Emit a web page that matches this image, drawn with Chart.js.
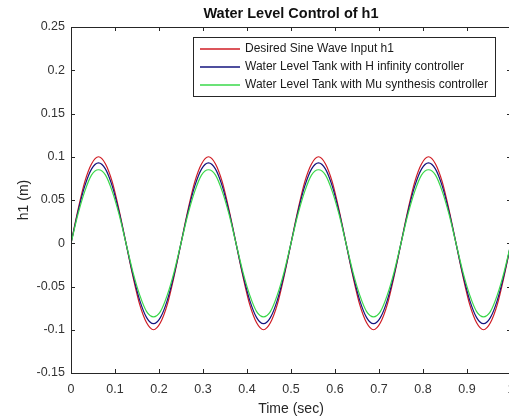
<!DOCTYPE html>
<html>
<head>
<meta charset="utf-8">
<script src="https://cdn.jsdelivr.net/npm/chart.js@4"></script>
<style>
  html, body { margin: 0; padding: 0; background: #fff; overflow: hidden; }
  #wrap { width: 515px; height: 419px; }
</style>
</head>
<body>
<div id="wrap"><canvas id="levelChart" width="515" height="419"></canvas></div>
<script>
// time samples (sec)
const timeSec = [
  0, 0.015625, 0.03125, 0.046875, 0.0625, 0.078125, 0.09375, 0.109375,
  0.125, 0.140625, 0.15625, 0.171875, 0.1875, 0.203125, 0.21875, 0.234375,
  0.25, 0.265625, 0.28125, 0.296875, 0.3125, 0.328125, 0.34375, 0.359375,
  0.375, 0.390625, 0.40625, 0.421875, 0.4375, 0.453125, 0.46875, 0.484375,
  0.5, 0.515625, 0.53125, 0.546875, 0.5625, 0.578125, 0.59375, 0.609375,
  0.625, 0.640625, 0.65625, 0.671875, 0.6875, 0.703125, 0.71875, 0.734375,
  0.75, 0.765625, 0.78125, 0.796875, 0.8125, 0.828125, 0.84375, 0.859375,
  0.875, 0.890625, 0.90625, 0.921875, 0.9375, 0.953125, 0.96875, 0.984375,
  1
];

// Desired sine input h1
const desiredH1 = [
  0, 0.038, 0.071, 0.092, 0.1, 0.092, 0.071, 0.038, 0, -0.038, -0.071, -0.092, -0.1, -0.092, -0.071, -0.038,
  0, 0.038, 0.071, 0.092, 0.1, 0.092, 0.071, 0.038, 0, -0.038, -0.071, -0.092, -0.1, -0.092, -0.071, -0.038,
  0, 0.038, 0.071, 0.092, 0.1, 0.092, 0.071, 0.038, 0, -0.038, -0.071, -0.092, -0.1, -0.092, -0.071, -0.038,
  0, 0.038, 0.071, 0.092, 0.1, 0.092, 0.071, 0.038, 0, -0.038, -0.071, -0.092, -0.1, -0.092, -0.071, -0.038,
  0
];

// H infinity controller
const hinfH1 = [
  0, 0.036, 0.066, 0.086, 0.093, 0.086, 0.066, 0.036, 0, -0.036, -0.066, -0.086, -0.093, -0.086, -0.066, -0.036,
  0, 0.036, 0.066, 0.086, 0.093, 0.086, 0.066, 0.036, 0, -0.036, -0.066, -0.086, -0.093, -0.086, -0.066, -0.036,
  0, 0.036, 0.066, 0.086, 0.093, 0.086, 0.066, 0.036, 0, -0.036, -0.066, -0.086, -0.093, -0.086, -0.066, -0.036,
  0, 0.036, 0.066, 0.086, 0.093, 0.086, 0.066, 0.036, 0, -0.036, -0.066, -0.086, -0.093, -0.086, -0.066, -0.036,
  0
];

// Mu synthesis controller
const muH1 = [
  0, 0.033, 0.06, 0.079, 0.085, 0.079, 0.06, 0.033, 0, -0.033, -0.06, -0.079, -0.085, -0.079, -0.06, -0.033,
  0, 0.033, 0.06, 0.079, 0.085, 0.079, 0.06, 0.033, 0, -0.033, -0.06, -0.079, -0.085, -0.079, -0.06, -0.033,
  0, 0.033, 0.06, 0.079, 0.085, 0.079, 0.06, 0.033, 0, -0.033, -0.06, -0.079, -0.085, -0.079, -0.06, -0.033,
  0, 0.033, 0.06, 0.079, 0.085, 0.079, 0.06, 0.033, 0, -0.033, -0.06, -0.079, -0.085, -0.079, -0.06, -0.033,
  0
];

const xTicks = [0, 0.1, 0.2, 0.3, 0.4, 0.5, 0.6, 0.7, 0.8, 0.9, 1];
const xTickLabels = ['0', '0.1', '0.2', '0.3', '0.4', '0.5', '0.6', '0.7', '0.8', '0.9', '1'];
const yTicks = [-0.15, -0.1, -0.05, 0, 0.05, 0.1, 0.15, 0.2, 0.25];
const yTickLabels = ['-0.15', '-0.1', '-0.05', '0', '0.05', '0.1', '0.15', '0.2', '0.25'];

const seriesNames = [
  'Desired Sine Wave Input h1',
  'Water Level Tank with H infinity controller',
  'Water Level Tank with Mu synthesis controller'
];
const seriesColors = ['#d01c24', '#14147e', '#3ad84a'];

const FONT = '"Liberation Sans", Arial, sans-serif';
const AXIS = '#262626';

function toPoints(ys) {
  return timeSec.map((t, i) => ({ x: t, y: ys[i] }));
}

// box, inward ticks, title, axis labels and legend, MATLAB style
const matlabFrame = {
  id: 'matlabFrame',
  afterDraw(chart) {
    const ctx = chart.ctx;
    const a = chart.chartArea;
    const xs = chart.scales.x, ys = chart.scales.y;
    ctx.save();
    ctx.strokeStyle = AXIS;
    ctx.lineWidth = 1;
    ctx.beginPath();
    xTicks.forEach(v => {
      const px = Math.round(xs.getPixelForValue(v)) + 0.5;
      ctx.moveTo(px, a.bottom); ctx.lineTo(px, a.bottom - 4);
      ctx.moveTo(px, a.top); ctx.lineTo(px, a.top + 4);
    });
    yTicks.forEach(v => {
      const py = Math.round(ys.getPixelForValue(v)) + 0.5;
      ctx.moveTo(a.left, py); ctx.lineTo(a.left + 4, py);
      ctx.moveTo(a.right, py); ctx.lineTo(a.right - 4, py);
    });
    ctx.stroke();
    ctx.strokeRect(Math.round(a.left) + 0.5, Math.round(a.top) + 0.5,
      Math.round(a.right - a.left), Math.round(a.bottom - a.top));

    // title + axis titles
    const cx = (a.left + a.right) / 2;
    ctx.fillStyle = '#111';
    ctx.textAlign = 'center';
    ctx.textBaseline = 'middle';
    ctx.font = 'bold 14.5px ' + FONT;
    ctx.fillText('Water Level Control of h1', cx, 14);
    ctx.fillStyle = '#262626';
    ctx.font = '14px ' + FONT;
    ctx.fillText('Time (sec)', cx, 409);
    ctx.save();
    ctx.translate(24, 200);
    ctx.rotate(-Math.PI / 2);
    ctx.fillText('h1 (m)', 0, 0);
    ctx.restore();

    // legend
    const lx = 193, ly = 37, lw = 302, lh = 59;
    ctx.fillStyle = '#fff';
    ctx.fillRect(lx, ly, lw, lh);
    ctx.strokeStyle = AXIS;
    ctx.strokeRect(lx + 0.5, ly + 0.5, lw, lh);
    ctx.font = '12px ' + FONT;
    ctx.textAlign = 'left';
    seriesNames.forEach((name, i) => {
      const y = 49 + i * 18;
      ctx.strokeStyle = seriesColors[i];
      ctx.lineWidth = 1.5;
      ctx.beginPath();
      ctx.moveTo(200, y); ctx.lineTo(240, y);
      ctx.stroke();
      ctx.fillStyle = '#1a1a1a';
      ctx.fillText(name, 245, y);
    });
    ctx.restore();
  }
};

const bgPlugin = {
  id: 'bg',
  beforeDraw(chart) {
    const ctx = chart.ctx;
    ctx.save();
    ctx.fillStyle = '#fff';
    ctx.fillRect(0, 0, chart.width, chart.height);
    ctx.restore();
  }
};

new Chart(document.getElementById('levelChart'), {
  type: 'line',
  data: {
    datasets: [
      { label: seriesNames[0], data: toPoints(desiredH1), borderColor: seriesColors[0], order: 2 },
      { label: seriesNames[1], data: toPoints(hinfH1), borderColor: seriesColors[1], order: 1 },
      { label: seriesNames[2], data: toPoints(muH1), borderColor: seriesColors[2], order: 0 }
    ]
  },
  options: {
    responsive: false,
    animation: false,
    layout: { padding: { left: 0, top: 27, right: 4, bottom: 0 } },
    elements: {
      point: { radius: 0 },
      line: { borderWidth: 1.2, cubicInterpolationMode: 'monotone', fill: false }
    },
    scales: {
      x: {
        type: 'linear',
        min: 0, max: 1,
        grid: { display: false, drawTicks: false },
        border: { display: false },
        afterBuildTicks: s => { s.ticks = xTicks.map(v => ({ value: v })); },
        afterFit: s => { s.height = 46; s.paddingLeft = 0; s.paddingRight = 0; },
        ticks: {
          padding: 9,
          maxRotation: 0,
          color: '#333',
          font: { family: FONT, size: 12.5 },
          callback: (v, i) => xTickLabels[i]
        }
      },
      y: {
        min: -0.15, max: 0.25,
        grid: { display: false, drawTicks: false },
        border: { display: false },
        afterBuildTicks: s => { s.ticks = yTicks.map(v => ({ value: v })); },
        afterFit: s => { s.width = 71; s.paddingTop = 0; s.paddingBottom = 0; },
        ticks: {
          padding: 6,
          color: '#333',
          font: { family: FONT, size: 12.5 },
          callback: (v, i) => yTickLabels[i]
        }
      }
    },
    plugins: {
      legend: { display: false },
      tooltip: { enabled: false }
    }
  },
  plugins: [bgPlugin, matlabFrame]
});
</script>
</body>
</html>
